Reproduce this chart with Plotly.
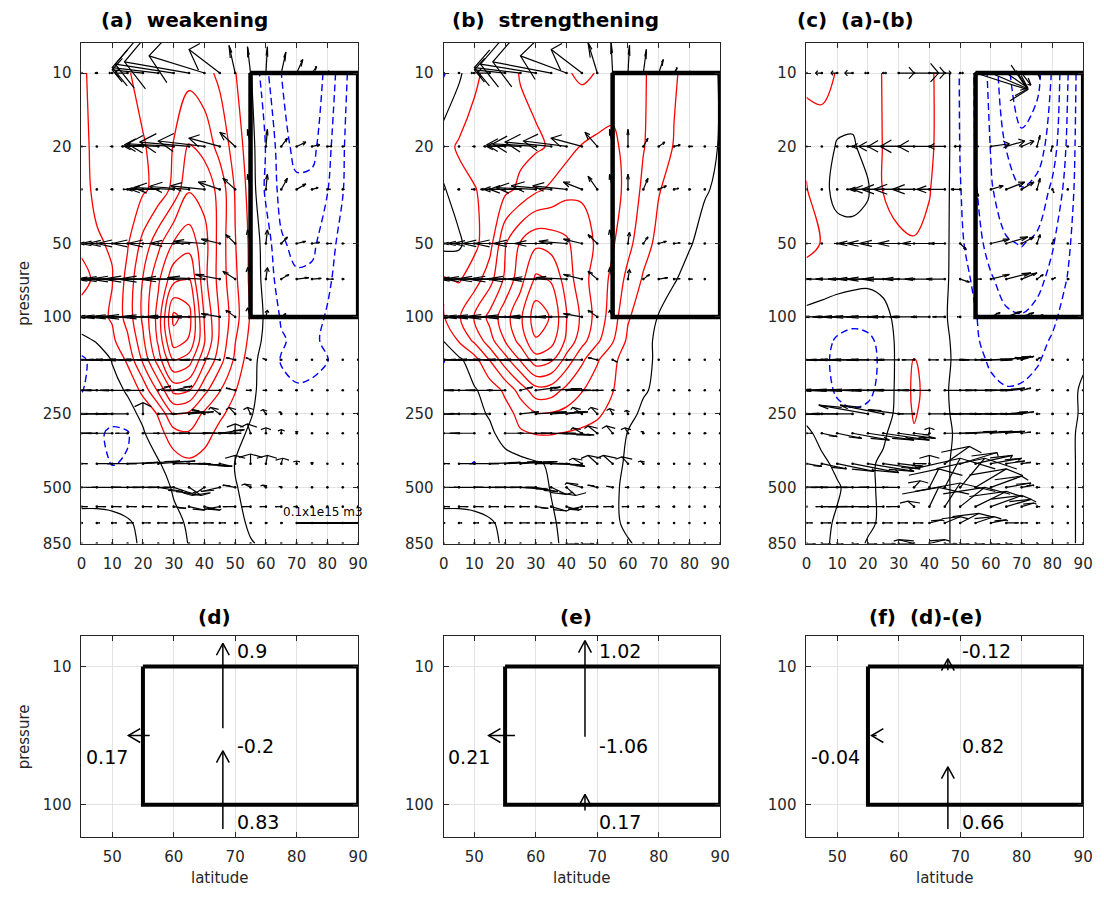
import math
import plotly.graph_objects as go

# ---------------- data ----------------
lats = list(range(0, 91, 5))
plevs = [10, 20, 30, 50, 70, 100, 125, 150, 200, 250, 300, 400, 500, 700, 850]   # contour grid
qlevs = [10, 20, 30, 50, 70, 100, 150, 200, 250, 300, 400, 500, 600, 700, 850]   # flux-vector rows

field_a = [
    [0.8, 1.4, 1.7, 1.95, 2.2, 2.45, 2.6, 2.65, 2.3, 1.8, 1.05, 0.1, -1.8, -3.0, -3.5, -3.5, -2.8, -1.3, -0.3],
    [0.8, 1.2, 1.5, 1.75, 1.95, 2.2, 3.05, 4.1, 3.7, 2.6, 1.6, 0.4, -1.05, -2.6, -3.3, -3.3, -2.3, -1.1, -0.2],
    [0.85, 1.1, 1.4, 1.65, 1.85, 2.3, 3.3, 4.9, 4.6, 3.7, 1.9, 0.6, -1.2, -2.3, -2.8, -2.7, -2.05, -1.05, -0.2],
    [0.9, 0.95, 1.05, 1.9, 3.3, 4.7, 6.1, 6.6, 5.4, 3.6, 2.05, 0.8, -0.5, -1.9, -2.2, -2.2, -1.5, -0.6, -0.1],
    [1.15, 0.9, 0.97, 2.3, 4.05, 5.8, 7.7, 8.05, 5.3, 3.6, 2.2, 0.8, -0.4, -1.5, -1.9, -1.8, -1.2, -0.5, -0.1],
    [0.8, 0.7, 1.1, 2.4, 4.2, 6.4, 10.3, 9.4, 5.9, 3.9, 2.4, 0.9, -0.2, -1.1, -1.4, -1.4, -0.9, -0.4, -0.1],
    [-0.3, 0.1, 0.8, 1.8, 3.8, 6.2, 9.5, 8.9, 6.1, 3.8, 2.05, 0.7, -0.3, -0.9, -1.2, -1.2, -0.8, -0.4, -0.1],
    [-1.2, -0.6, 0.05, 1.2, 3.2, 5.5, 8.1, 7.5, 5.2, 3.4, 1.8, 0.4, -0.5, -1.05, -1.3, -1.3, -1.05, -0.4, -0.1],
    [-1.05, -0.6, -0.3, 0.1, 1.3, 3.2, 5.3, 5.05, 3.3, 2.05, 1.05, 0.3, -0.5, -0.8, -0.9, -0.8, -0.5, -0.3, -0.05],
    [-0.6, -0.5, -0.6, -0.3, 0.2, 1.1, 3.05, 2.8, 1.8, 1.2, 0.6, 0.05, -0.3, -0.5, -0.6, -0.5, -0.3, -0.2, -0.05],
    [-0.5, -0.8, -1.2, -1.1, -0.1, 0.6, 1.6, 1.9, 1.4, 0.7, 0.2, -0.1, -0.2, -0.3, -0.3, -0.3, -0.2, -0.1, -0.05],
    [-0.3, -0.6, -1.05, -0.9, -0.5, -0.1, 0.5, 0.8, 0.6, 0.3, -0.02, -0.1, -0.2, -0.2, -0.2, -0.2, -0.1, -0.1, -0.05],
    [-0.3, -0.3, -0.3, -0.3, -0.3, -0.2, 0.05, 0.3, 0.4, 0.2, 0.02, -0.1, -0.1, -0.1, -0.1, -0.1, -0.05, -0.05, -0.05],
    [0.2, 0.2, 0.15, 0.05, -0.1, -0.15, -0.1, 0.05, 0.15, 0.15, 0.1, -0.05, -0.1, -0.1, -0.1, -0.1, -0.05, -0.05, -0.05],
    [0.2, 0.2, 0.15, 0.08, -0.05, -0.1, -0.1, 0.01, 0.1, 0.1, 0.08, 0.02, -0.05, -0.05, -0.05, -0.05, -0.05, -0.05, -0.05],
]

field_b = [
    [-1.1, -0.2, 0.8, 1.3, 1.65, 2.05, 2.3, 2.3, 2.1, 1.8, 2.05, 2.5, 2.5, 2.1, 1.6, 1.1, 0.7, 0.3, -0.05],
    [0.6, 1.15, 1.4, 1.55, 1.65, 1.75, 1.85, 2.1, 2.6, 3.05, 3.2, 3.2, 2.7, 2.05, 1.5, 0.95, 0.6, 0.25, -0.05],
    [-0.1, 0.6, 0.95, 1.3, 1.75, 2.2, 2.8, 3.2, 3.7, 3.9, 3.8, 3.4, 2.7, 1.8, 1.05, 0.7, 0.4, 0.05, -0.1],
    [-0.3, -0.2, 0.75, 1.6, 3.9, 5.1, 5.8, 5.6, 5.2, 4.3, 3.9, 3.1, 2.3, 1.35, 0.75, 0.45, 0.05, -0.2, -0.1],
    [1.1, 0.9, 1.5, 2.6, 4.2, 5.6, 7.2, 6.9, 5.5, 4.4, 3.5, 2.8, 1.7, 0.9, 0.5, 0.05, -0.2, -0.2, -0.1],
    [0.95, 1.9, 3.05, 4.3, 5.6, 6.8, 8.6, 7.9, 6.05, 4.8, 3.6, 2.5, 1.1, 0.5, -0.05, -0.3, -0.3, -0.2, -0.1],
    [0.05, 1.1, 2.2, 3.6, 5.05, 6.4, 7.9, 7.4, 5.8, 4.4, 3.2, 2.1, 0.8, 0.3, -0.2, -0.3, -0.3, -0.2, -0.1],
    [-1.05, -0.2, 0.6, 2.05, 3.6, 5.1, 6.6, 6.2, 4.6, 3.2, 2.1, 1.3, 0.4, 0.15, -0.1, -0.2, -0.2, -0.15, -0.1],
    [-0.6, -0.3, -0.1, 0.4, 1.2, 2.4, 3.6, 3.5, 2.7, 2.05, 1.5, 1.05, 0.4, 0.05, -0.1, -0.15, -0.15, -0.1, -0.1],
    [-0.5, -0.6, -0.3, 0.1, 0.6, 1.3, 1.9, 1.9, 1.7, 1.5, 1.2, 0.6, 0.15, -0.1, -0.1, -0.1, -0.1, -0.1, -0.1],
    [-0.4, -0.6, -0.7, -0.2, 0.4, 0.9, 1.05, 1.05, 0.95, 0.8, 0.55, 0.25, -0.02, -0.1, -0.1, -0.1, -0.1, -0.1, -0.1],
    [-0.5, -0.9, -1.02, -0.7, -0.4, -0.3, -0.1, 0.1, 0.3, 0.35, 0.25, 0.1, -0.05, -0.1, -0.1, -0.1, -0.1, -0.1, -0.1],
    [-0.3, -0.3, -0.3, -0.3, -0.3, -0.2, -0.15, 0.02, 0.2, 0.2, 0.15, 0.04, -0.05, -0.05, -0.05, -0.05, -0.05, -0.05, -0.05],
    [0.2, 0.2, 0.15, 0.05, -0.1, -0.1, -0.1, -0.05, 0.1, 0.15, 0.1, 0.05, -0.05, -0.05, -0.05, -0.05, -0.05, -0.05, -0.05],
    [0.2, 0.2, 0.15, 0.08, -0.05, -0.1, -0.1, -0.05, 0.05, 0.1, 0.1, 0.05, 0.02, -0.05, -0.05, -0.05, -0.05, -0.05, -0.05],
]

field_c = [
    [1.1, 1.3, 0.95, 0.5, 0.6, 1.05, 1.3, 1.4, 1.2, 0.5, -1.1, -2.1, -3.3, -4.8, -5.6, -5.3, -3.9, -2.05, -0.1],
    [0.8, 0.6, -0.1, -0.1, 0.3, 1.05, 1.3, 1.4, 1.2, 0.5, -1.05, -2.05, -3.05, -4.05, -4.8, -4.5, -3.5, -1.8, -0.1],
    [1.05, 0.3, -0.3, -0.3, -0.1, 1.05, 1.3, 1.3, 1.05, 0.4, -0.95, -1.9, -2.9, -3.6, -3.95, -3.7, -2.8, -1.6, -0.1],
    [1.2, 0.97, 0.4, 0.3, 0.4, 0.6, 0.85, 0.95, 0.8, 0.3, -0.8, -1.6, -2.4, -2.9, -3.05, -2.8, -2.1, -1.2, -0.1],
    [0.7, 0.5, 0.4, 0.3, 0.2, 0.3, 0.5, 0.6, 0.5, 0.2, -0.6, -1.2, -1.9, -2.4, -2.5, -2.3, -1.7, -0.95, -0.1],
    [-0.3, -0.4, -0.6, -0.7, -0.6, -0.3, 0.3, 0.5, 0.4, 0.1, -0.5, -0.95, -1.5, -1.85, -1.95, -1.7, -1.2, -0.6, -0.05],
    [-0.4, -0.7, -1.1, -1.3, -1.2, -0.7, 0.3, 0.6, 0.5, 0.2, -0.4, -0.9, -1.3, -1.5, -1.5, -1.3, -0.9, -0.5, -0.05],
    [-0.5, -0.8, -1.2, -1.4, -1.3, -0.8, 0.3, 1.05, 0.6, 0.2, -0.3, -0.8, -1.1, -1.3, -1.3, -1.1, -0.7, -0.3, -0.05],
    [-0.4, -0.7, -1.1, -1.3, -1.2, -0.7, 0.3, 1.2, 0.7, 0.1, -0.3, -0.6, -0.85, -0.95, -0.9, -0.7, -0.4, -0.1, 0.05],
    [-0.3, -0.5, -0.8, -0.9, -0.8, -0.5, 0.3, 1.1, 0.6, 0.1, -0.2, -0.4, -0.5, -0.5, -0.5, -0.4, -0.3, -0.1, 0.05],
    [0.2, -0.3, -0.5, -0.4, -0.2, -0.1, 0.3, 0.9, 0.5, 0.1, -0.1, -0.2, -0.2, -0.2, -0.2, -0.2, -0.1, -0.05, 0.05],
    [0.3, 0.2, -0.2, -0.3, -0.1, 0.1, 0.2, 0.3, 0.3, 0.05, -0.1, -0.1, -0.1, -0.1, -0.1, -0.1, -0.1, -0.05, 0.05],
    [0.3, 0.3, 0.1, -0.3, -0.1, 0.1, 0.2, 0.2, 0.2, 0.05, -0.1, -0.1, -0.1, -0.1, -0.1, -0.1, -0.1, -0.05, 0.05],
    [0.3, 0.2, -0.1, -0.2, -0.1, 0.1, 0.2, 0.2, 0.2, 0.05, -0.1, -0.1, -0.1, -0.1, -0.1, -0.1, -0.1, -0.05, 0.05],
    [0.3, 0.1, -0.1, -0.2, 0.05, 0.1, 0.2, 0.2, 0.2, 0.05, -0.1, -0.1, -0.1, -0.1, -0.1, -0.1, -0.1, -0.05, 0.05],
]

# flux vectors: u in degrees latitude, v in hPa (negative = upward)
ua = [
    [0, -0.5, -1, -4, -10, -15, -19, -21, -18, -10, -2, -1, 0.5, 1.5, 2, 1.5, 0.5, 0, 0],
    [0, 0, -0.5, -2, -6, -11, -15, -16, -15, -10, -5, -1, 0.5, 2, 3, 2.5, 1.5, 0.5, 0],
    [0, 0, -0.5, -1.5, -5, -9, -13, -13, -11, -7, -4, -1, 0.5, 2, 3, 2, 1, 0.5, 0],
    [-2, -6, -10, -13, -15, -15, -15, -13, -10, -6, -3, -1, 0.5, 2, 3, 2.5, 1.5, 0.5, 0],
    [-3, -8, -12, -15, -17, -18, -18, -16, -12, -8, -4, -1, 0.5, 2.5, 4, 3, 2, 0.5, 0],
    [-4, -9, -13, -16, -18, -19, -18, -15, -11, -6, -3, -1, 0.5, 1.5, 2, 1.5, 1, 0, 0],
    [-3, -6, -9, -12, -13, -13, -12, -10, -8, -5, -3, -1.5, -1, -0.5, -0.5, 0, 0, 0, 0],
    [-8, -10, -10, -9, -6, 4, 6, -9, -9, -7, -3, -1.5, -1, -1, -0.5, -0.3, 0, 0, 0],
    [-8, -10, -12, -10, 0, 6, 10, 8, -4, -3, -2, -1, -1, -0.5, -0.3, 0, 0, 0, 0],
    [-10, -12, -10, -4, 5, 10, 14, 14, 12, 8, 0, -1, 0, 0, 0, 0, 0, 0, 0],
    [2, 5, 8, 10, 12, 12, 12, 10, 8, 4, 0, 0, 0.5, 0.5, 0, 0, 0, 0, 0],
    [5, 8, 10, 10, 10, 8, 6, 4, -4, -6, -4, -2, -1, -0.5, 0, 0, 0, 0, 0],
    [2, 3, 3, 3, 3, 3, 4, 5, 5, -5, -4, -3, -2, -2, -1, -0.5, 0, 0, 0],
    [0.5, 1, 1.5, 2, 2.5, 3, 3, 3, 3, 2, 1, 0.5, 0.5, 0.5, 0, 0, 0, 0, 0],
    [0, 0, 0, 0, 0, 0, 0, 0, 0, 0, 0, 0, 0, 0, 0, 0, 0, 0, 0],
]
va = [
    [0, 0, 0, 0, -0.3, -0.5, -0.8, -1, -1.5, -2, -2.3, -2.2, -2.2, -1.8, -1.2, -0.6, -0.2, 0, 0],
    [0, 0, 0, 0, 0, -0.3, -0.5, -0.8, -1, -1.5, -2.5, -3, -3, -1.5, -0.8, -0.3, 0, 0, 0],
    [0, 0, 0, 0, 0, 0, -0.5, -0.8, -1, -2, -3, -4, -4, -3, -1.5, -0.5, 0, 0, 0],
    [0, 0, 0, 0, 0, 0, 0, 0, -1, -2, -4, -6, -6, -3, -1, -0.5, 0, 0, 0],
    [0, 0, 0, 0, 0, 0, 0, 0, -1, -3, -5, -7, -7, -3, -1, -0.5, 0, 0, 0],
    [0, 0, 0, 0, 0, 0, 0, 0, 0, -3, -6, -8, -6, -3, -1, 0, 0, 0, 0],
    [0, 0, 0, 0, 0, 0, 0, 0, 0, -2, -3, -3, -2, 0, 0, 0, 0, 0, 0],
    [0, 0, 0, 0, 0, -8, -8, 0, 0, 0, -4, 0, 0, 0, 0, 0, 0, 0, 0],
    [0, 0, 0, 0, -25, 0, -5, -5, -10, -15, -15, -15, -10, -5, 0, 0, 0, 0, 0],
    [0, 0, 0, 0, 0, 0, 0, 0, 0, -10, -25, -25, -15, -10, -5, 0, 0, 0, 0],
    [0, 0, 0, -5, -10, -10, 0, 5, 10, 10, -30, -35, -30, -20, -10, -5, 0, 0, 0],
    [0, 0, 0, 0, 0, 20, 30, 40, 40, 20, -10, -15, -10, -5, 0, 0, 0, 0, 0],
    [0, 0, 0, 0, 0, 0, 10, 20, 20, 15, 0, 0, 0, 0, 0, 0, 0, 0, 0],
    [0, 0, 0, 0, 0, 0, 0, 0, 0, 0, 0, 0, 0, 0, 0, 0, 0, 0, 0],
    [0, 0, 0, 0, 0, 0, 0, 0, 0, 0, 0, 0, 0, 0, 0, 0, 0, 0, 0],
]

ub = [
    [0, 0, -1, -4, -10, -15, -18, -19, -15, -10, -3, -0.5, 0.5, 1, 1.5, 1, 0.3, 0, 0],
    [0, 0, -0.5, -2, -6, -11, -14, -15, -14, -10, -4, -1, 0, 1.5, 2, 2, 1, 0.3, -0.5],
    [0, -0.5, -1, -3, -7, -10, -13, -13, -11, -6, -3, -1, 0, 1.5, 2.5, 1.5, 0.5, 0.3, 0],
    [-2, -5, -9, -12, -14, -15, -14, -12, -9, -6, -3, -1, 0.5, 1.5, 2.5, 2, 1, 0.3, 0],
    [-3, -8, -12, -15, -16, -17, -16, -14, -10, -6, -3, -1, 0.5, 2, 3, 2, 1, 0.3, 0],
    [-4, -9, -13, -16, -18, -19, -18, -15, -10, -6, -3, -1, 0.3, 0.3, 0, 0, 0, 0, 0],
    [-3, -6, -9, -11, -12, -12, -12, -10, -8, -5, -3, 1.5, -0.5, -0.3, 0, 0, 0, 0, 0],
    [-8, -10, -10, -8, -6, 4, 8, 10, 8, 5, 2, 1, 0.5, 0.5, 0.3, 0, 0, 0, 0],
    [-10, -12, -10, -6, 0, 6, 10, 12, 6, -3, -2, -1, -0.5, -0.3, 0, 0, 0, 0, 0],
    [-10, -12, -8, 0, 6, 10, 13, 13, 9, -3, -3, -2, -1, -0.5, 0, 0, 0, 0.5, 0],
    [2, 5, 8, 10, 12, 12, 11, 10, 6, -3, -3, -3, -2, -1, -0.5, 0, 0, 0, 0],
    [5, 8, 10, 10, 10, 9, 7, 5, 3, -5, -3, -2, -1, -1, -0.5, 0, 0, 0, 0],
    [2, 3, 3, 3, 3, 3, 4, 5, 4, -4, -4, -3, -2, -2, -1, -0.5, 0, 0, 0],
    [0.5, 1, 1.5, 2, 2.5, 3, 3, 3, 3, 2, 1.5, 0.5, 0.5, 0.5, 0, 0, 0, 0, 0],
    [0, 0, 0, 0, 0, 0, 0, 0, 4, 4, 0, 0, 0, 0, 0, 0, 0, 0, 0],
]
vb = [
    [0, 0, 0, 0, -0.3, -0.5, -0.8, -1, -1.5, -2, -2.5, -2.5, -2.3, -2, -1.2, -0.5, -0.2, 0, 0],
    [0, 0, 0, 0, 0, -0.3, -0.5, -0.8, -1, -1.5, -2.5, -3, -3, -1.5, -0.8, -0.3, 0, 0, 0],
    [0, 0, 0, 0, 0, 0, -0.5, -1, -1, -2, -3.5, -4, -4, -3, -1, -0.3, 0, 0, 0],
    [0, 0, 0, 0, 0, 0, 0, 0, -1, -2, -4, -6, -5, -3, -1, -0.3, 0, 0, 0],
    [0, 0, 0, 0, 0, 0, 0, 0, -1, -3, -5, -7, -6, -3, -1, -0.3, 0, 0, 0],
    [0, 0, 0, 0, 0, 0, 0, 0, 0, -3, -6, -6, 0, 0, 0, 0, 0, 0, 0],
    [0, 0, 0, 0, 0, 0, 0, 0, 0, 0, -3, 3, 0, 0, 0, 0, 0, 0, 0],
    [0, 0, 0, 0, 0, -6, -6, -3, 0, 0, 0, 0, 0, 0, 0, 0, 0, 0, 0],
    [0, 0, 0, 0, 0, -5, -5, -5, -5, -15, -15, -12, -8, -3, 0, 0, 0, 0, 0],
    [0, 0, 0, 0, 0, 0, 0, 5, 5, -15, -20, -20, -15, -5, 0, 0, 0, 0, 0],
    [0, 0, 0, -5, -8, -8, 0, 5, 10, -20, -30, -30, -25, -10, 0, 0, 0, 0, 0],
    [0, 0, 0, 0, 0, 10, 20, 35, 40, -20, -10, -5, 0, 0, 0, 0, 0, 0, 0],
    [0, 0, 0, 0, 0, 0, 10, 25, 20, 15, 0, 0, 0, 0, 0, 0, 0, 0, 0],
    [0, 0, 0, 0, 0, 0, 0, 0, 0, 0, 0, 0, 0, 0, 0, 0, 0, 0, 0],
    [0, 0, 0, 0, 0, 0, 0, 0, 0, 0, 0, 0, 0, 0, 0, 0, 0, 0, 0],
]

uc = [
    [-1, -2, -2, -2.5, -1, 1, 5, 8, 5, 2, 1, 17, 12, 7, 3, 1, 0.3, 0, 0],
    [0, 0, -0.5, -2, -5, -8, -10, -11, -10, -5, -2, 1, 6, 6, 4, 1, -0.5, -0.3, 0],
    [0, 0, 0, -2, -6, -10, -12, -13, -12, -9, -3, 1, 4, 6, 4, 1, 0.5, 0, 0],
    [0, 0, -1, -4, -10, -12, -13, -12, -9, -5, 2, 1, 6, 7, 4, 1, 0.5, 0, 0],
    [-3, -5, -7, -8, -10, -12, -12, -10, -8, -6, 3, 2, 6, 8, 5, 2, 1, 0.5, 0],
    [-5, -6, -8, -10, -12, -12, -10, -8, -6, -4, -1, 0.5, 3, 5, 4, 2, 0.5, 0, 0],
    [-6, -8, -10, -12, -13, -12, -8, -4, 3, 8, 10, 12, 12, 8, 4, 1, 0.5, 0, 0],
    [-10, -14, -18, -20, -20, -20, -18, -15, -10, 10, 12, 12, 10, 6, 3, 1, 0.5, 0, 0],
    [-8, -12, -15, -16, -16, -14, -10, -5, 10, 12, 12, 12, 10, 7, 4, 1, 0.5, 0, 0],
    [2, 5, 8, 12, 15, 15, 12, 5, 0, 10, 12, 12, 10, 6, 3, 1, 0.5, 0, 0],
    [5, 8, 12, 15, 15, 12, 8, 4, 0, 8, 12, 12, 10, 6, 3, 1, 0, 0, 0],
    [-5, -8, -10, -12, -10, -8, -5, 2, 3, 5, 8, 10, 10, 8, 4, 1, 0, 0, 0],
    [0, -2, -5, -8, -10, -8, -4, -2, 3, 5, 8, 10, 10, 8, 4, 1, 0, 0, 0],
    [2, 3, 3, 3, 3, 3, 3, 3, 4, 5, 6, 6, 5, 4, 2, 1, 0, 0, 0],
    [3, 3, 2, 2, 3, 4, 5, -5, 5, 4, 3, 3, 3, 2, 1, 0.5, 0, 0, 0],
]
vc = [
    [0, 0, 0, 0, 0, 0, 0, 0, 0, 0, 0, 1.7, 1.6, 1.5, 1.2, 0.5, 0, 0, 0],
    [0, 0, 0, 0, 0, 0, 0, 0, 0, 0, 0, 0, -0.5, -1, -1, -2, 1, 0, 0],
    [0, 0, 0, 0, 0, 0, 0, 0, 0, 0, 0, 2, -1, -2, -2, -3, 1, 0, 0],
    [0, 0, 0, 0, 0, 0, 0, 0, 0, 0, 3, 0, -2, -3, -3, -4, -2, 0, 0],
    [0, 0, 0, 0, 0, 0, 0, 0, 0, 0, 2, 0, -3, -4, -4, -3, -1, 0, 0],
    [0, 0, 0, 0, 0, 0, 0, 0, 0, 0, 0, 0, -4, -5, -4, -2, 0, 0, 0],
    [0, 0, 0, 0, 0, 0, 0, 0, 0, 0, 0, 0, -3, -5, -5, -3, 0, 0, 0],
    [0, 0, 0, 0, 0, 0, 0, 0, 0, 0, 0, 0, -2, -4, -4, -2, 0, 0, 0],
    [0, 0, 0, 0, -20, -20, -10, 0, 0, 0, 0, 0, 0, -5, -5, 0, 0, 0, 0],
    [0, 10, 15, 20, 20, 20, 15, 5, -15, 0, -5, -5, -5, -5, -3, 0, 0, 0, 0],
    [10, 20, 30, 35, 30, 20, 10, 0, -30, -60, -40, -30, -20, -10, -5, 0, 0, 0, 0],
    [0, 0, 0, 0, 0, 0, 0, -30, -80, -120, -120, -80, -50, -20, -10, 0, 0, 0, 0],
    [0, 0, 0, 0, 0, 0, 0, -30, -100, -120, -100, -80, -60, -40, -20, 0, 0, 0, 0],
    [0, 0, 0, 0, 0, 0, 0, 0, -20, -40, -60, -40, -20, 0, 0, 0, 0, 0, 0],
    [0, 0, 0, 0, 0, 0, 0, -30, -30, 0, 0, 0, 0, 0, 0, 0, 0, 0, 0],
]

top_titles = ["(a)  weakening", "(b)  strengthening", "(c)  (a)-(b)"]
bottom_titles = ["(d)", "(e)", "(f)  (d)-(e)"]
top_xticks = [0, 10, 20, 30, 40, 50, 60, 70, 80, 90]
top_pticks = [10, 20, 50, 100, 250, 500, 850]
bot_xticks = [50, 60, 70, 80, 90]
bot_pticks = [10, 100]

box_lat = [55, 90, 90, 55, 55]
box_p = [10, 10, 100, 100, 10]

# polar-cap budget (d, e, f)
flux_top = [0.9, 1.02, -0.12]
flux_bottom = [0.83, 0.17, 0.66]
flux_left = [0.17, 0.21, -0.04]
residual = [-0.2, -1.06, 0.82]

ref_vector_lat = [70, 90]
ref_vector_p = [700, 700]
ref_label = "0.1x1e15 m3"

# ---------------- layout helpers ----------------
W, H = 1104, 902
col_px = [(77.5, 358.0), (444.7, 725.0), (812.5, 1093.0)]
top_px = (43.0, 549.0)
bot_px = (642.3, 845.0)
FONT = "DejaVu Sans"
AX = "#262626"
GRID = "#e3e3e3"

for f in (field_a, field_b, field_c, ua, va, ub, vb, uc, vc):
    assert len(f) == 15 and all(len(r) == 19 for r in f)

fig = go.Figure()


def axname(i):
    return ("x", "y") if i == 1 else (f"x{i}", f"y{i}")


def quiver(U, V, alpha=0.33, beta=0.33):
    xs, ys = [], []
    for i, p in enumerate(qlevs):
        for j, lat in enumerate(lats):
            u, v = U[i][j], V[i][j]
            if u == 0 and v == 0:
                continue
            tx, ty = lat + u, p + v
            xs += [lat, tx, None]
            ys += [p, ty, None]
            a1x = tx - alpha * (u + beta * v)
            a1y = ty - alpha * (v - beta * u)
            a2x = tx - alpha * (u - beta * v)
            a2y = ty - alpha * (v + beta * u)
            xs += [a1x, tx, a2x, None]
            ys += [a1y, ty, a2y, None]
    return xs, ys


fields = [field_a, field_b, field_c]
UU = [ua, ub, uc]
VV = [va, vb, vc]

for k in range(3):
    xa, ya = axname(k + 1)
    common = dict(x=lats, y=plevs, z=fields[k], showscale=False, hoverinfo="skip",
                  xaxis=xa, yaxis=ya, autocontour=False)
    fig.add_trace(go.Contour(**common, contours=dict(start=1, end=20, size=1, coloring="none"),
                             line=dict(color="#ff0000", width=1.3)))
    fig.add_trace(go.Contour(**common, contours=dict(start=-20, end=-1, size=1, coloring="none"),
                             line=dict(color="#0000ff", width=1.4, dash="7px,4px")))
    fig.add_trace(go.Contour(**common, contours=dict(start=0, end=0, size=1, coloring="none"),
                             line=dict(color="#000000", width=1.2)))
    qx, qy = quiver(UU[k], VV[k])
    fig.add_trace(go.Scatter(x=qx, y=qy, mode="lines", line=dict(color="black", width=1.2),
                             hoverinfo="skip", showlegend=False, xaxis=xa, yaxis=ya))
    dx = [lat for p in qlevs for lat in lats]
    dy = [p for p in qlevs for lat in lats]
    fig.add_trace(go.Scatter(x=dx, y=dy, mode="markers", marker=dict(color="black", size=2.6),
                             hoverinfo="skip", showlegend=False, xaxis=xa, yaxis=ya))
    fig.add_trace(go.Scatter(x=box_lat, y=box_p, mode="lines", line=dict(color="black", width=4.5),
                             hoverinfo="skip", showlegend=False, xaxis=xa, yaxis=ya))

# reference vector in (a)
fig.add_trace(go.Scatter(x=ref_vector_lat, y=ref_vector_p, mode="lines", line=dict(color="black", width=2),
                         hoverinfo="skip", showlegend=False, xaxis="x", yaxis="y"))

# bottom budget panels
pxdeg = (col_px[0][1] - col_px[0][0]) / 45.0
pxdec = 140.0
scale_v = 0.682     # decades per unit
scale_h = 20.4      # degrees per unit
arrow_lat = 68
top_tip_p = [6.8, 6.5, 8.8]
bottom_tail_p = [150, 110, 150]
left_tail_lat = [56.1, 56.6, 56.4]
left_p = 31.6

for k in range(3):
    xa, ya = axname(k + 4)
    fig.add_trace(go.Scatter(x=box_lat, y=box_p, mode="lines", line=dict(color="black", width=4),
                             hoverinfo="skip", showlegend=False, xaxis=xa, yaxis=ya))
    xs, ys = [], []
    hdx = 6.5 / pxdeg
    hdy = 12.0 / pxdec
    # top arrow (upward)
    tip = top_tip_p[k]
    tail = tip * 10 ** (abs(flux_top[k]) * scale_v)
    xs += [arrow_lat, arrow_lat, None, arrow_lat - hdx, arrow_lat, arrow_lat + hdx, None]
    ys += [tail, tip, None, tip * 10 ** hdy, tip, tip * 10 ** hdy, None]
    # bottom arrow (upward)
    tail = bottom_tail_p[k]
    tip = tail / 10 ** (abs(flux_bottom[k]) * scale_v)
    xs += [arrow_lat, arrow_lat, None, arrow_lat - hdx, arrow_lat, arrow_lat + hdx, None]
    ys += [tail, tip, None, tip * 10 ** hdy, tip, tip * 10 ** hdy, None]
    # left arrow
    t0 = left_tail_lat[k]
    t1 = t0 - abs(flux_left[k]) * scale_h
    ldx = 12.0 / pxdeg
    ldy = 7.0 / pxdec
    xs += [t0, t1, None, t1 + ldx, t1, t1 + ldx, None]
    ys += [left_p, left_p, None, left_p * 10 ** (-ldy), left_p, left_p * 10 ** ldy, None]
    fig.add_trace(go.Scatter(x=xs, y=ys, mode="lines", line=dict(color="black", width=1.5),
                             hoverinfo="skip", showlegend=False, xaxis=xa, yaxis=ya))
    tf = dict(family=FONT, size=19, color="black")
    for val, lat, p in [(flux_top[k], 69.9, 7.7), (residual[k], 69.9, 37.5),
                        (flux_bottom[k], 69.9, 133)]:
        fig.add_annotation(x=lat, y=math.log10(p), xref=xa, yref=ya, text=f"{val:g}",
                           showarrow=False, xanchor="left", yanchor="middle", font=tf)
    fig.add_annotation(x=45.35, y=math.log10(45), xref=xa, yref=ya, text=f"{flux_left[k]:g}",
                       showarrow=False, xanchor="left", yanchor="middle", font=tf)

# axes
def base_axis(**kw):
    d = dict(showline=True, linecolor=AX, linewidth=1, mirror="allticks", ticks="inside",
             ticklen=5, tickwidth=1, tickcolor=AX, showgrid=True, gridcolor=GRID, gridwidth=1,
             zeroline=False, tickfont=dict(family=FONT, size=15, color=AX), ticklabelstandoff=6)
    d.update(kw)
    return d

layout = dict(width=W, height=H, margin=dict(l=0, r=0, t=0, b=0), paper_bgcolor="white",
              plot_bgcolor="white", showlegend=False)
for k in range(3):
    xd = [col_px[k][0] / W, col_px[k][1] / W]
    i = k + 1
    xk = "xaxis" if i == 1 else f"xaxis{i}"
    yk = "yaxis" if i == 1 else f"yaxis{i}"
    layout[xk] = base_axis(domain=xd, range=[0, 90], tickvals=top_xticks, anchor=axname(i)[1])
    layout[yk] = base_axis(domain=[1 - top_px[1] / H, 1 - top_px[0] / H], type="log",
                           range=[math.log10(850), math.log10(7.5)], tickvals=top_pticks,
                           ticktext=[str(t) for t in top_pticks], anchor=axname(i)[0])
    j = k + 4
    layout[f"xaxis{j}"] = base_axis(domain=xd, range=[45, 90], tickvals=bot_xticks, anchor=f"y{j}")
    layout[f"yaxis{j}"] = base_axis(domain=[1 - bot_px[1] / H, 1 - bot_px[0] / H], type="log",
                                    range=[math.log10(170), math.log10(6)], tickvals=bot_pticks,
                                    ticktext=[str(t) for t in bot_pticks], anchor=f"x{j}")
fig.update_layout(**layout)

# titles and labels
title_font = dict(family=FONT, size=20, color="black")
top_title_cx = [182, 558, 862]
bot_title_cx = [212, 579, 934]
for k in range(3):
    fig.add_annotation(x=top_title_cx[k] / W, y=1 - 20 / H, xref="paper", yref="paper",
                       text=f"<b>{top_titles[k]}</b>", showarrow=False, xanchor="center",
                       yanchor="middle", font=title_font)
    fig.add_annotation(x=bot_title_cx[k] / W, y=1 - 623 / H, xref="paper", yref="paper",
                       text=f"<b>{bottom_titles[k]}</b>", showarrow=False, xanchor="center",
                       yanchor="middle", font=title_font)
    cx = (col_px[k][0] + col_px[k][1]) / 2
    fig.add_annotation(x=cx / W, y=1 - 887 / H, xref="paper", yref="paper", text="latitude",
                       showarrow=False, xanchor="center", yanchor="middle",
                       font=dict(family=FONT, size=15, color=AX))
for yc in (296, 744):
    fig.add_annotation(x=19 / W, y=1 - yc / H, xref="paper", yref="paper", text="pressure",
                       textangle=-90, showarrow=False, xanchor="center", yanchor="middle",
                       font=dict(family=FONT, size=15, color=AX))
fig.add_annotation(x=280 / W, y=1 - 517 / H, xref="paper", yref="paper", text=ref_label,
                   showarrow=False, xanchor="left", yanchor="middle",
                   font=dict(family=FONT, size=12, color="black"))

fig.write_html("out.html")
